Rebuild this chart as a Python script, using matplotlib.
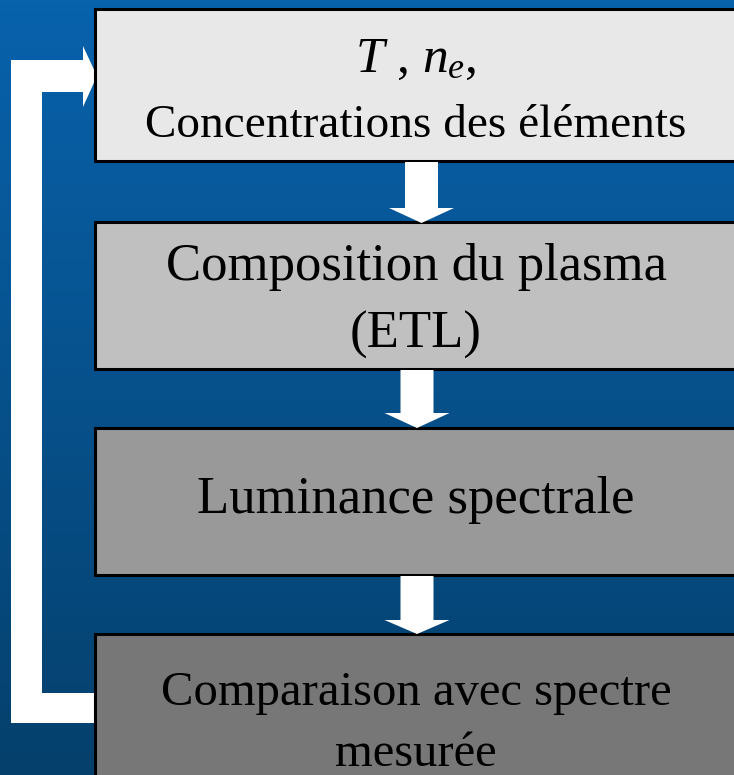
import numpy as np
import matplotlib.pyplot as plt
from matplotlib.patches import Rectangle, Polygon

plt.rcParams['font.family'] = ['Liberation Serif', 'DejaVu Serif']
plt.rcParams['mathtext.fontset'] = 'custom'
plt.rcParams['mathtext.rm'] = 'Liberation Serif'
plt.rcParams['mathtext.it'] = 'Liberation Serif:italic'

# boites du schema (haut -> bas)
etapes = [
    ["$T$ , $n_e$,", "Concentrations des éléments"],
    ["Composition du plasma", "(ETL)"],
    ["Luminance spectrale"],
    ["Comparaison avec spectre", "mesurée"],
]
couleurs = ["#e8e8e8", "#c0c0c0", "#999999", "#777777"]
tailles = [[37, 34], [38, 38], [38], [35, 35]]

# mise en page en pixels
W, H = 734, 775
bx0, bx1 = 95, 737
boites_y = [(9, 161), (222, 369), (428, 575), (634, 800)]
lignes_y = [[72, 137], [280, 348], [513], [705, 766]]
fleches = [(421.5, 162, 208, 223), (417, 370, 413, 428), (417, 576, 620, 634)]

fig = plt.figure(figsize=(W / 100, H / 100), dpi=100)
ax = fig.add_axes([0, 0, 1, 1])
ax.set_xlim(0, W)
ax.set_ylim(H, 0)
ax.axis('off')

# fond degrade bleu
haut = np.array([8, 98, 172]) / 255
bas = np.array([5, 64, 108]) / 255
t = np.linspace(0, 1, 256)[:, None]
grad = (haut * (1 - t) + bas * t)[:, None, :]
ax.imshow(grad, extent=[0, W, H, 0], aspect='auto', zorder=0)

# fleche de retour
retour = [(11, 60), (83, 60), (83, 46), (97, 76), (83, 107), (83, 92), (42, 92),
          (42, 693), (96, 693), (96, 723), (11, 723)]
ax.add_patch(Polygon(retour, closed=True, facecolor='white', edgecolor='none', zorder=1))

for (y0, y1), c, textes, ly, fs in zip(boites_y, couleurs, etapes, lignes_y, tailles):
    ax.add_patch(Rectangle((bx0, y0), bx1 - bx0, y1 - y0, facecolor=c,
                           edgecolor='black', linewidth=2.2, zorder=2))
    for txt, y, f in zip(textes, ly, fs):
        ax.text(416, y, txt, ha='center', va='baseline', fontsize=f, color='black', zorder=3)

# fleches vers le bas
for xc, ys, yh, yt in fleches:
    pts = [(xc - 16.5, ys), (xc + 16.5, ys), (xc + 16.5, yh), (xc + 32.5, yh),
           (xc, yt), (xc - 32.5, yh), (xc - 16.5, yh)]
    ax.add_patch(Polygon(pts, closed=True, facecolor='white', edgecolor='none', zorder=4))

fig.savefig("out.png", dpi=100)
